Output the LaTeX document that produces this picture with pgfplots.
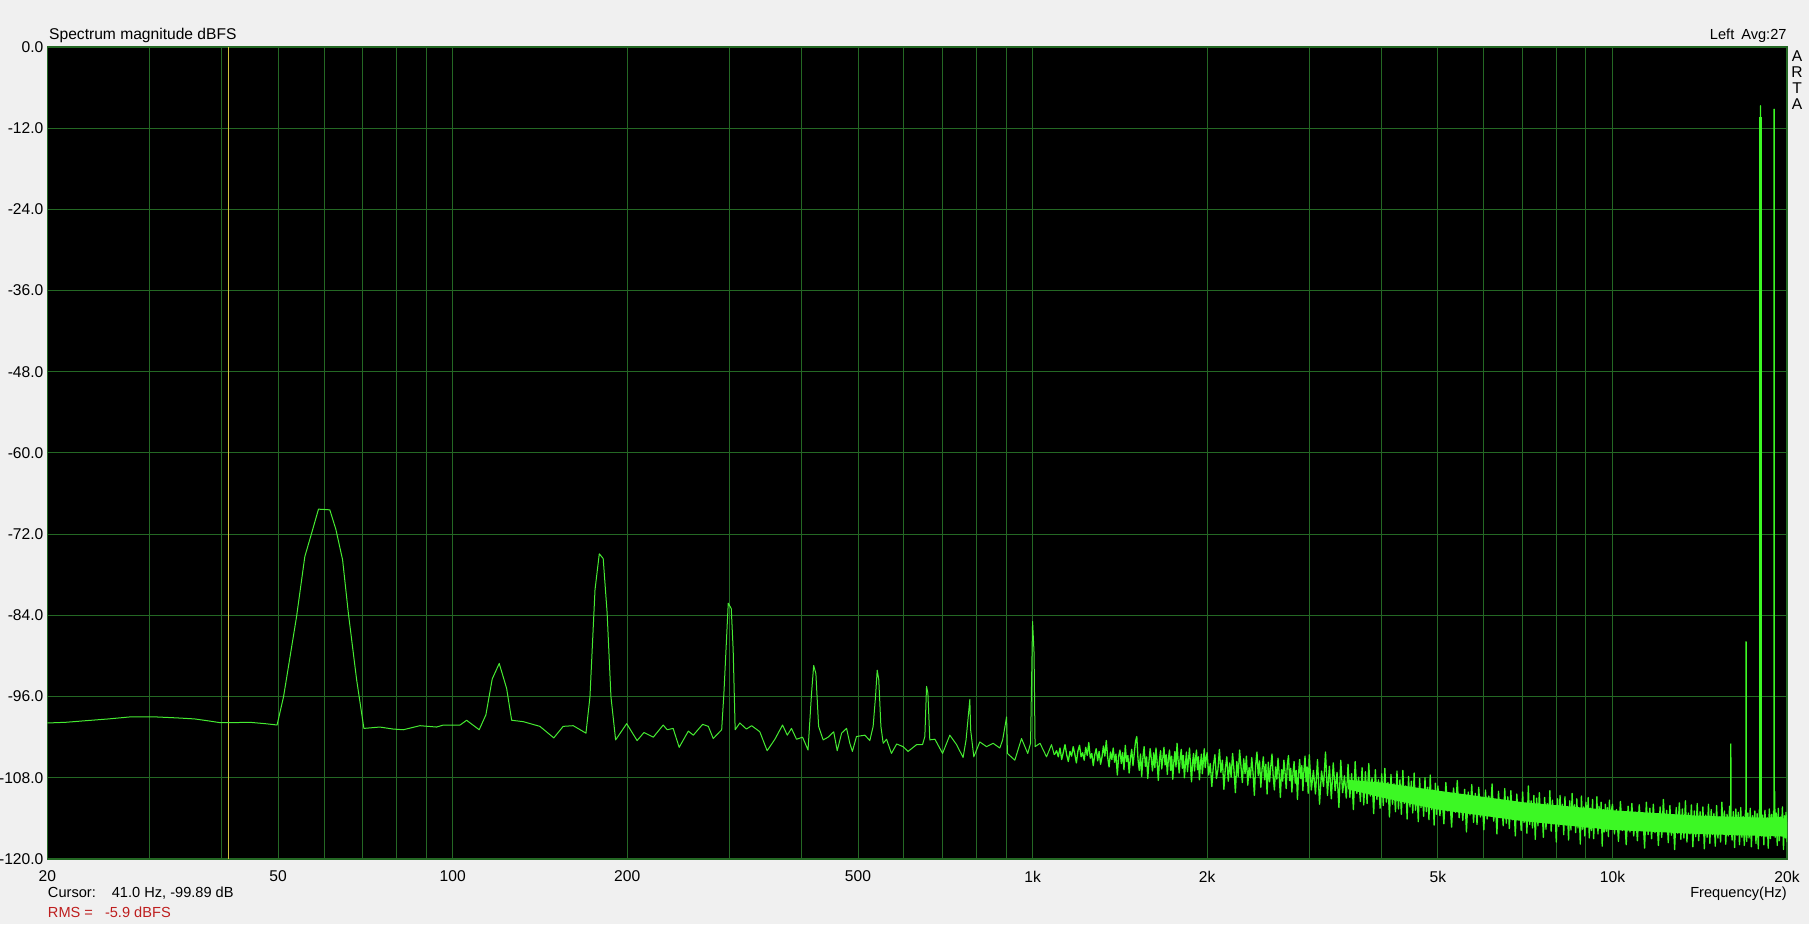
\documentclass[border=0pt]{standalone}
\usepackage{fontspec}
\setmainfont{Liberation Sans}
\usepackage{pgfplots}
\usepackage{pgfplotstable}
\pgfplotsset{compat=1.18}
\definecolor{bg}{RGB}{240,240,240}
\definecolor{gridc}{RGB}{36,104,36}
\definecolor{trace}{RGB}{70,235,50}
\definecolor{tracehi}{RGB}{60,248,36}
\definecolor{cursorc}{RGB}{210,195,60}
\definecolor{rmsred}{RGB}{190,30,30}
\newcommand\ff{\fontsize{15.6bp}{18bp}\selectfont}
\newcommand\fs{\fontsize{14.6bp}{17bp}\selectfont}

\pgfplotstableread{
f db
20 -99.9
21.5 -99.8
23 -99.6
25.5 -99.3
27.8 -99.0
30.7 -99.0
33.5 -99.15
35.9 -99.3
38 -99.6
39.7 -99.85
41.5 -99.85
44.7 -99.8
47.5 -100.0
49.8 -100.2
51.1 -96.0
53.8 -84.2
55.6 -75.3
57.1 -71.9
58.7 -68.3
61.4 -68.4
62.9 -71.3
64.6 -75.8
66.1 -83.7
68.3 -93.5
70.3 -100.7
74.9 -100.5
79 -100.8
82.2 -100.9
87.8 -100.3
93.8 -100.5
96.4 -100.2
103 -100.2
105.7 -99.5
111.1 -100.9
114.1 -98.7
117 -93.4
120.3 -91.1
123.9 -94.8
126.4 -99.5
132.3 -99.7
141.4 -100.4
149.4 -102.1
155.1 -100.4
161.4 -100.3
169.8 -101.4
172.5 -96.0
176 -80.2
179 -74.9
181.8 -75.6
184.7 -83.7
187.5 -96.0
191 -102.4
199.6 -100.0
208 -102.5
213.8 -101.3
221.8 -102.0
230.7 -100.2
234.4 -100.9
240 -100.7
245.8 -103.5
254.9 -101.1
260 -101.7
269.8 -100.1
276 -100.4
281.4 -102.2
291 -100.9
293.6 -95.5
298.7 -82.2
302.3 -83.0
304.6 -89.1
307 -100.9
312.8 -99.9
321 -100.8
327.8 -100.3
338.6 -101.2
348.6 -104.0
359.5 -102.3
370.6 -100.2
377.6 -101.7
384 -100.7
391.7 -102.3
401.2 -102.0
410 -103.9
415.8 -95.5
419.3 -91.4
423 -92.6
427.6 -100.4
435.4 -102.4
444 -102.0
454 -101.2
460.4 -104.0
468.5 -101.4
477.8 -100.7
484 -102.9
489 -104.1
497 -101.9
513.8 -101.7
524 -102.5
531 -100.4
536 -96.0
539.6 -92.1
543 -93.5
547.6 -100.4
552.6 -102.9
560 -102.3
571 -104.4
583 -103.0
598 -103.4
610 -104.1
631 -103.1
646 -103.1
652 -101.9
656.4 -94.5
660 -95.5
665 -102.4
678.6 -102.3
699.6 -104.4
720 -101.7
739.6 -103.1
759 -105.0
768 -102.4
779.6 -96.4
782 -100.9
792 -104.9
811 -102.7
833 -103.4
855 -102.9
878 -103.6
888 -102.4
902 -99.0
905 -104.4
932 -105.4
957 -102.2
981 -104.4
992 -102.9
1000 -84.9
1006 -89.6
1010 -103.4
1030 -102.9
1057 -104.9
1078 -103.1
1090 -104.6
}\speclow

\pgfplotstableread{
f db
1090 -104.6
1100 -104.0
1107.5 -104.9
1115 -103.6
1122.5 -105.3
1130 -104.2
1137.5 -103.1
1145 -104.6
1152.5 -105.6
1160 -104.1
1167.5 -104.8
1175 -103.4
1182.5 -104.5
1190 -105.8
1197.5 -104.0
1205 -103.2
1212.5 -104.9
1220 -104.3
1227.5 -105.4
1235 -103.5
1242.5 -104.7
1250 -102.8
1257.5 -105.1
1265 -104.4
1272.5 -106.2
1280 -104.6
1287.5 -103.7
1295 -105.5
1302.5 -104.1
1310 -106.0
1317.5 -104.9
1325 -103.3
1332.5 -104.8
1340 -102.5
1347.5 -105.0
1355 -106.4
1362.5 -104.2
1370 -105.3
1377.5 -103.6
1385 -105.7
1392.5 -104.5
1400 -107.6
1407.5 -104.8
1415 -103.9
1422.5 -105.9
1430 -104.3
1437.5 -106.8
1445 -103.2
1452.5 -105.6
1460 -104.7
1467.5 -107.3
1475 -105.1
1482.5 -103.8
1490 -106.2
1497.5 -104.4
1505 -102.6
1512.5 -101.9
1520 -105.3
1527.5 -106.9
1535 -104.5
1542.5 -107.8
1550 -105.0
1557.5 -103.4
1565 -106.3
1572.5 -104.9
1580 -108.1
1587.5 -105.6
1595 -103.7
1602.5 -105.2
1610 -107.0
1617.5 -104.3
1625 -106.5
1632.5 -103.6
1640 -105.8
1647.5 -108.4
1655 -105.4
1662.5 -104.0
1670 -106.7
1677.5 -105.1
1685 -103.5
1692.5 -106.1
1700 -104.6
1707.5 -107.5
1715 -105.2
1722.5 -103.9
1730 -106.9
1737.5 -104.8
1745 -108.2
1752.5 -105.7
1760 -104.1
1767.5 -106.4
1775 -102.9
1782.5 -105.5
1790 -107.3
1797.5 -105.0
1805 -103.8
1812.5 -106.6
1820 -104.7
1827.5 -108.0
1835 -105.9
1842.5 -104.2
1850 -107.1
1857.5 -105.3
1865 -103.6
1872.5 -106.2
1880 -108.6
1887.5 -105.8
1895 -104.4
1902.5 -107.0
1910 -105.1
1917.5 -103.9
1925 -106.8
1932.5 -104.9
1940 -108.3
1947.5 -106.0
1955 -104.5
1962.5 -107.4
1970 -105.6
1977.5 -103.7
1985 -106.5
1992.5 -105.2
2000 -104.3
2012.5 -107.6
2025 -105.9
2037.5 -109.3
2050 -106.2
2062.5 -104.6
2075 -108.1
2087.5 -106.8
2100 -103.8
2112.5 -107.2
2125 -105.4
2137.5 -109.7
2150 -106.6
2162.5 -104.9
2175 -108.5
2187.5 -105.8
2200 -107.9
2212.5 -104.4
2225 -106.9
2237.5 -110.2
2250 -105.6
2262.5 -107.8
2275 -103.9
2287.5 -106.3
2300 -108.7
2312.5 -105.2
2325 -107.4
2337.5 -104.8
2350 -109.1
2362.5 -106.5
2375 -108.0
2387.5 -105.0
2400 -107.3
2412.5 -110.6
2425 -106.1
2437.5 -104.2
2450 -107.7
2462.5 -105.5
2475 -109.4
2487.5 -106.7
2500 -104.9
2512.5 -108.3
2525 -106.0
2537.5 -110.4
2550 -105.7
2562.5 -108.6
2575 -106.3
2587.5 -104.5
2600 -107.9
2612.5 -109.8
2625 -106.4
2637.5 -108.2
2650 -105.1
2662.5 -107.6
2675 -110.9
2687.5 -106.8
2700 -108.5
2712.5 -105.4
2725 -107.2
2737.5 -109.6
2750 -106.0
2762.5 -104.7
2775 -108.4
2787.5 -106.6
2800 -110.1
2812.5 -107.3
2825 -105.6
2837.5 -108.8
2850 -106.9
2862.5 -111.2
2875 -107.5
2887.5 -105.3
2900 -108.1
2912.5 -106.2
2925 -109.9
2937.5 -107.0
2950 -104.8
2962.5 -108.6
2975 -106.4
2987.5 -110.3
3000 -104.6
3025 -109.8
3050 -106.9
3075 -110.4
3100 -105.3
3125 -111.9
3150 -107.0
3175 -109.3
3200 -104.2
3225 -110.6
3250 -106.3
3275 -111.1
3300 -105.8
3325 -109.9
3350 -107.2
3375 -112.4
3400 -105.4
3425 -110.2
3450 -107.7
3475 -111.0
3500 -106.0
3525 -110.9
3550 -107.4
3575 -112.7
3600 -105.6
3625 -110.3
3650 -107.9
3675 -111.5
3700 -106.5
3725 -112.0
3750 -107.1
3775 -111.8
3800 -105.9
3825 -110.7
3850 -108.0
3875 -113.3
3900 -106.8
3925 -111.2
3950 -108.3
3975 -112.5
4000 -107.4
4025 -112.1
4050 -106.6
4075 -111.6
4100 -108.7
4125 -113.8
4150 -107.5
4175 -111.9
4200 -108.9
4225 -113.0
4250 -107.0
4275 -112.6
4300 -108.3
4325 -113.4
4350 -106.9
4375 -111.8
4400 -109.2
4425 -114.1
4450 -107.8
4475 -112.3
4500 -108.5
4525 -113.2
4550 -107.3
4575 -112.8
4600 -109.6
4625 -114.5
4650 -108.1
4675 -112.4
4700 -109.9
4725 -113.7
4750 -108.0
4775 -113.0
4800 -109.4
4825 -114.2
4850 -107.6
4875 -112.7
4900 -109.8
4925 -115.0
4950 -108.8
4975 -113.4
5000 -109.2
5040 -113.6
5080 -110.4
5120 -114.8
5160 -108.7
5200 -112.9
5240 -110.8
5280 -115.3
5320 -109.5
5360 -113.1
5400 -108.4
5440 -113.9
5480 -110.6
5520 -114.3
5560 -109.7
5600 -116.0
5640 -110.1
5680 -113.5
5720 -109.0
5760 -114.6
5800 -110.3
5840 -114.9
5880 -109.4
5920 -113.8
5960 -111.0
6000 -115.7
6040 -109.8
6080 -114.1
6120 -110.7
6160 -113.3
6200 -108.9
6240 -114.4
6280 -111.2
6320 -116.3
6360 -110.0
6400 -113.9
6440 -111.5
6480 -115.1
6520 -109.6
6560 -114.7
6600 -110.8
6640 -115.5
6680 -109.9
6720 -114.2
6760 -111.7
6800 -116.6
6840 -110.4
6880 -114.0
6920 -112.0
6960 -115.8
7000 -110.1
7040 -114.6
7080 -111.9
7120 -116.2
7160 -109.2
7200 -114.9
7240 -111.4
7280 -115.4
7320 -110.6
7360 -117.1
7400 -111.0
7440 -115.1
7480 -110.2
7520 -114.4
7560 -112.1
7600 -116.8
7640 -110.9
7680 -115.6
7720 -111.8
7760 -114.7
7800 -109.9
7840 -115.9
7880 -111.3
7920 -114.8
7960 -112.4
8000 -117.5
8040 -111.1
8080 -115.2
8120 -110.6
8160 -114.5
8200 -111.9
8240 -116.4
8280 -110.8
8320 -115.0
8360 -112.6
8400 -117.2
8440 -111.4
8480 -115.7
8520 -110.3
8560 -114.9
8600 -112.0
8640 -116.1
8680 -111.1
8720 -115.4
8760 -112.8
8800 -117.8
8840 -110.7
8880 -115.6
8920 -112.3
8960 -116.6
9000 -111.6
9040 -115.3
9080 -110.9
9120 -116.9
9160 -112.5
9200 -115.8
9240 -111.2
9280 -117.0
9320 -112.9
9360 -115.2
9400 -110.8
9440 -116.3
9480 -112.2
9520 -115.5
9560 -111.6
9600 -118.1
9640 -112.7
9680 -116.0
9720 -111.9
9760 -115.9
9800 -112.4
9840 -116.7
9880 -111.3
9920 -115.6
9960 -112.8
10000 -111.9
10080 -116.3
10160 -112.7
10240 -117.4
10320 -111.5
10400 -115.8
10480 -113.0
10560 -117.9
10640 -112.2
10720 -116.0
10800 -111.8
10880 -116.6
10960 -113.1
11040 -117.3
11120 -112.0
11200 -115.7
11280 -113.6
11360 -118.4
11440 -111.6
11520 -116.4
11600 -112.5
11680 -117.0
11760 -111.9
11840 -116.1
11920 -113.4
12000 -118.0
12080 -112.3
12160 -116.8
12240 -111.2
12320 -115.9
12400 -112.8
12480 -117.6
12560 -112.1
12640 -116.5
12720 -113.7
12800 -118.6
12880 -112.4
12960 -116.2
13040 -111.7
13120 -117.1
13200 -112.6
13280 -116.9
13360 -111.4
13440 -117.5
13520 -113.2
13600 -116.3
13680 -112.0
13760 -118.2
13840 -112.9
13920 -116.7
14000 -111.8
14080 -117.3
14160 -113.0
14240 -116.0
14320 -112.3
14400 -118.5
14480 -113.5
14560 -116.8
14640 -111.9
14720 -117.7
14800 -112.7
14880 -116.4
14960 -113.3
15040 -118.1
15120 -112.1
15200 -116.9
15280 -113.8
15360 -117.5
15440 -111.6
15520 -116.2
15600 -112.9
15680 -117.8
15760 -113.4
15840 -116.6
15920 -112.2
15999 -114.5
16000 -103.0
16001 -114.5
16080 -117.2
16160 -113.0
16240 -118.3
16320 -112.6
16400 -116.5
16480 -113.1
16560 -117.9
16640 -112.4
16720 -116.8
16800 -113.7
16880 -118.0
16960 -112.8
16999 -115.0
17000 -87.9
17001 -115.0
17040 -117.4
17120 -113.2
17200 -116.9
17280 -112.5
17360 -118.2
17440 -113.6
17520 -116.4
17600 -112.9
17680 -117.7
17760 -113.3
17840 -118.5
17920 -112.7
17999 -115.0
18000 -8.7
18001 -115.0
18080 -116.6
18160 -113.5
18240 -117.9
18320 -112.8
18400 -116.7
18480 -113.9
18560 -118.4
18640 -112.6
18720 -117.0
18800 -113.4
18880 -116.3
18960 -112.9
18999 -115.0
19000 -9.2
19001 -115.0
19040 -110.0
19080 -116.8
19160 -113.2
19240 -118.0
19320 -112.5
19400 -117.3
19480 -113.8
19560 -116.1
19640 -112.3
19720 -118.6
19800 -113.6
19880 -116.9
19920 -113.1
20000 -117.5
}\spechigh

\begin{document}
\begin{tikzpicture}[x=1bp,y=1bp]
\fill[bg] (0,0) rectangle (1809,924);
\begin{axis}[
  at={(47.3bp,65bp)}, anchor=south west,
  scale only axis, width=1739.7bp, height=812bp,
  xmode=log, xmin=20, xmax=20000, ymin=-120, ymax=0,
  axis background/.style={fill=black},
  axis line style={gridc, line width=1.2bp},
  grid=both,
  major grid style={gridc, line width=1bp},
  minor grid style={gridc, line width=1bp},
  xtick={20,50,100,200,500,1000,2000,5000,10000,20000},
  xticklabels={20,50,100,200,500,1k,2k,5k,10k,20k},
  minor xtick={30,40,60,70,80,90,300,400,600,700,800,900,3000,4000,6000,7000,8000,9000},
  ytick={-120,-108,...,0},
  yticklabels={-120.0,-108.0,-96.0,-84.0,-72.0,-60.0,-48.0,-36.0,-24.0,-12.0,0.0},
  major tick length=0pt, minor tick length=0pt,
  tick label style={font=\ff, inner sep=0pt, text=black},
  xticklabel shift=11.5bp,
  yticklabel shift=3.8bp,
]
\addplot[fill=tracehi, draw=none, forget plot] coordinates {
(3500,-108.3) (4000,-108.7) (5000,-109.9) (7000,-111.6) (10000,-112.8) (14000,-113.6) (20000,-114.0)
(20000,-116.7) (14000,-116.3) (10000,-115.7) (7000,-114.4) (5000,-112.7) (4000,-110.9) (3500,-109.7)};
\addplot[cursorc, line width=1bp] coordinates {(41,0) (41,-120)};
\addplot[trace, line width=1bp, line join=round, mark=none] table[x=f, y=db] {\speclow};
\addplot[tracehi, line width=1.3bp, line join=round, mark=none] table[x=f, y=db] {\spechigh};
\addplot[tracehi, line width=2.6bp] coordinates {(18000,-115) (18000,-10.4)};
\end{axis}
\node[anchor=base west, inner sep=0pt, font=\ff] at (49,884.6) {Spectrum magnitude dBFS};
\node[anchor=base east, inner sep=0pt, font=\fs] at (1786.7,884.6) {Left\hspace{7bp}Avg:27};
\node[anchor=base, inner sep=0pt, font=\ff] at (1797,862.5) {A};
\node[anchor=base, inner sep=0pt, font=\ff] at (1797,846.5) {R};
\node[anchor=base, inner sep=0pt, font=\ff] at (1797,830.5) {T};
\node[anchor=base, inner sep=0pt, font=\ff] at (1797,814.5) {A};
\node[anchor=base east, inner sep=0pt, font=\fs] at (1787,26) {Frequency(Hz)};
\node[anchor=base west, inner sep=0pt, font=\fs] at (47.8,26) {Cursor:\hspace{16bp}41.0 Hz, -99.89 dB};
\node[anchor=base west, inner sep=0pt, font=\fs, text=rmsred] at (47.8,7) {RMS =\hspace{12bp}-5.9 dBFS};
\pgfresetboundingbox
\path[use as bounding box] (0,0) rectangle (1809,924);
\end{tikzpicture}
\end{document}
